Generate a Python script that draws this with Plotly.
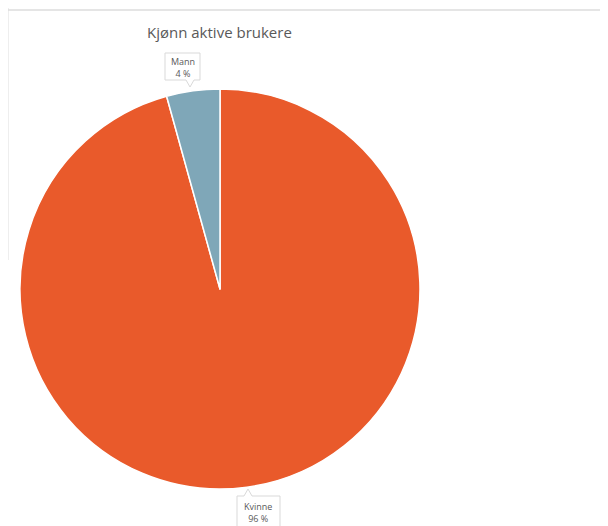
import plotly.graph_objects as go

categories = ["Kvinne", "Mann"]
values = [95.7, 4.3]
pct_labels = ["96 %", "4 %"]
colors = ["#E95A2B", "#7FA7B8"]

W, H = 608, 526
OFF = 8  # page body margin offset

def px(x):
    return (x - OFF) / W

def py(y):
    return 1 - (y - OFF) / H

fig = go.Figure()
fig.add_trace(go.Pie(
    labels=categories, values=values, sort=False, direction="clockwise",
    rotation=0, marker=dict(colors=colors, line=dict(color="white", width=1.5)),
    textinfo="none", hoverinfo="label+percent", showlegend=False,
    domain=dict(x=[px(20), px(420)], y=[py(489), py(89)]),
))

grey = "#D9D9D9"
shapes = [
    dict(type="line", xref="paper", yref="paper", x0=px(8), x1=1, y0=py(10), y1=py(10),
         line=dict(color="#DDDDDD", width=1.5)),
    dict(type="line", xref="paper", yref="paper", x0=px(8), x1=px(8), y0=1, y1=py(260),
         line=dict(color="#DDDDDD", width=1)),
    # callout boxes with pointers
    dict(type="path", xref="paper", yref="paper",
         path=f"M {px(165)} {py(53)} L {px(200)} {py(53)} L {px(200)} {py(80)} L {px(194)} {py(80)} "
              f"L {px(190)} {py(87)} L {px(186)} {py(80)} L {px(165)} {py(80)} Z",
         line=dict(color=grey, width=1), fillcolor="white"),
    dict(type="path", xref="paper", yref="paper",
         path=f"M {px(237)} {py(496)} L {px(244)} {py(496)} L {px(248)} {py(489)} L {px(252)} {py(496)} "
              f"L {px(280)} {py(496)} L {px(280)} {py(530)} L {px(237)} {py(530)} Z",
         line=dict(color=grey, width=1), fillcolor="white"),
]

annotations = [
    dict(text="Kjønn aktive brukere", x=px(220), y=py(32), xref="paper", yref="paper",
         showarrow=False, font=dict(size=15, color="#595959", family="Open Sans"),
         xanchor="center", yanchor="middle"),
    dict(text=f"{categories[1]}<br>{pct_labels[1]}", x=px(183), y=py(67), xref="paper", yref="paper",
         showarrow=False, font=dict(size=9, color="#595959", family="Open Sans"),
         xanchor="center", yanchor="middle"),
    dict(text=f"{categories[0]}<br>{pct_labels[0]}", x=px(258), y=py(512), xref="paper", yref="paper",
         showarrow=False, font=dict(size=9, color="#595959", family="Open Sans"),
         xanchor="center", yanchor="middle"),
]

fig.update_layout(
    width=W, height=H, margin=dict(l=0, r=0, t=0, b=0),
    paper_bgcolor="white", plot_bgcolor="white",
    shapes=shapes, annotations=annotations,
)
fig.write_html("out.html")
